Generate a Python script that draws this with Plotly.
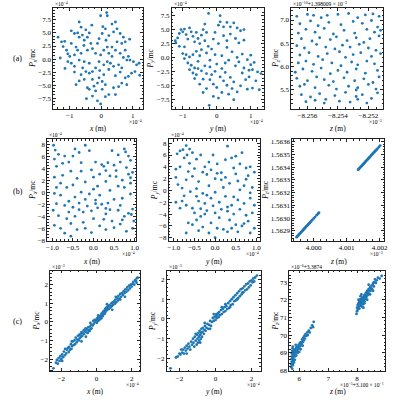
import plotly.graph_objects as go

# ---------------- data (values as displayed, in the axis multiplier units) ----------------
# Row (a): x vs P_x/mc  (x in 1e-4 m, P in 1e-4)
a1_points = [(-1.37,4.2),(-1.26,3.3),(-1.16,3.4),(-1.21,2.4),(-1.1,1.7),(-1.06,1.0),(-1.0,0.5),(-1.06,-0.5),
 (-0.95,-0.8),(-0.85,-1.4),(-0.85,-2.5),(-0.7,-4.2),(-0.8,2.3),(-0.95,5.4),(-0.85,4.9),(-0.75,5.0),(-0.7,7.1),
 (-0.64,6.1),(-0.6,4.6),(-0.54,3.6),(-0.49,5.6),(-0.44,4.2),(-0.38,5.0),(-0.33,3.0),(-0.44,1.7),(-0.64,1.1),
 (-0.54,-0.5),(-0.38,-0.8),(-0.59,-1.7),(-0.49,-2.4),(-0.38,-2.7),(-0.28,-2.4),(-0.54,-3.9),(-0.44,-5.5),
 (-0.38,-5.8),(-0.47,-7.6),(-0.28,-7.1),(-0.18,-6.1),(-0.12,-8.0),(-0.02,-8.6),(0.13,-7.2),(0.24,-6.8),
 (-0.12,-4.6),(-0.07,-3.6),(0.03,-4.3),(0.13,-4.9),(0.39,-5.5),(0.55,-5.3),(0.45,-6.8),(0.65,-4.6),(0.81,-4.9),
 (0.76,-3.6),(0.86,-3.3),(0.96,-2.7),(1.07,-2.4),(1.12,-1.1),(1.02,-0.5),(0.65,-1.7),(0.55,-1.1),(0.39,-1.4),
 (0.29,-0.8),(0.19,-0.5),(0.08,-1.1),(0.24,-2.0),(0.08,-3.0),(-0.18,-1.7),(-0.07,-0.5),(-0.02,0.8),(-0.18,1.1),
 (-0.28,2.0),(-0.12,3.0),(-0.07,3.9),(0.03,4.9),(-0.02,8.3),(0.17,8.9),(0.19,8.3),(0.34,6.7),(0.45,7.1),
 (0.5,5.8),(0.39,5.2),(0.24,4.5),(0.13,5.8),(0.6,4.9),(0.7,4.2),(0.76,3.3),(0.65,3.0),(0.5,3.3),(0.34,2.3),
 (0.19,2.3),(0.08,1.7),(0.45,1.7),(0.6,1.1),(0.76,1.7),(0.86,0.5),(0.91,-0.2),(0.81,-0.2),(0.34,0.5),(0.24,1.1),
 (-0.8,-4.9),(-0.64,-3.0),(-0.28,-3.9),(-0.23,-5.2),(0.03,-5.8),(-0.7,4.2),(-0.95,3.0),(-0.85,0.8),(-0.7,-0.2),
 (-0.75,1.7),(-0.3,6.5),(0.05,6.2),(0.9,3.8),(-1.3,0.2),(-1.15,-1.8),(0.6,-2.5),(0.45,-3.2),(-0.05,-2.2),
 (0.15,3.6),(-0.55,2.6),(0.7,0.3),(1.22,-3.1),(1.2,-0.8)]

# y vs P_y/mc  (y in 1e-4 m, P in 1e-4)
a2_points = [(-1.22,3.0),(-1.2,2.6),(-1.15,3.5),(-1.1,4.3),(-1.05,5.0),(-1.0,4.6),(-0.95,5.1),(-0.9,4.1),
 (-0.85,3.3),(-0.8,5.3),(-0.75,4.6),(-0.7,3.8),(-0.65,2.8),(-0.6,4.5),(-0.55,3.4),(-0.5,2.5),(-0.45,4.0),
 (-0.4,5.0),(-0.35,3.0),(-0.3,4.5),(-1.0,0.7),(-0.95,-0.2),(-0.9,0.5),(-0.85,-1.0),(-0.75,-1.4),(-0.8,-2.2),
 (-0.7,-2.8),(-0.65,-1.9),(-0.6,-3.1),(-0.55,-0.7),(-0.5,0.3),(-0.45,-2.4),(-0.4,-3.9),(-0.35,-1.5),(-0.3,0.8),
 (-0.25,2.0),(-0.2,-0.5),(-0.15,1.5),(-0.1,3.3),(-0.05,-2.5),(0.0,-1.2),(0.05,2.5),(0.1,-3.5),(0.15,0.3),
 (-0.24,7.9),(0.1,7.5),(0.05,5.8),(0.1,6.4),(0.2,5.5),(0.3,6.3),(0.4,5.5),(0.5,6.2),(0.6,5.3),(0.7,4.8),
 (0.4,4.2),(0.55,3.4),(0.2,3.9),(0.8,3.1),(0.65,2.6),(0.3,1.8),(0.45,1.0),(0.6,0.0),(0.75,0.6),(0.9,-0.4),
 (1.0,-1.3),(1.1,-0.9),(1.05,-2.2),(1.2,-2.6),(1.3,-2.9),(0.95,-3.5),(0.85,-4.0),(0.75,-2.8),(0.55,-1.5),
 (0.35,-0.5),(0.25,-2.7),(0.4,-3.6),(0.5,-4.4),(0.7,-5.1),(0.9,-5.7),(1.05,-5.5),(1.15,-4.2),(1.25,-5.8),
 (0.6,-6.2),(0.45,-5.6),(0.3,-5.0),(0.2,-4.2),(0.35,-6.6),(0.5,-7.6),(0.15,-6.3),(0.0,-5.4),(-0.1,-4.8),
 (-0.2,-4.0),(-0.3,-5.6),(-0.4,-6.3),(-0.22,-8.6),(-0.1,-7.0),(0.05,-7.3),(-0.5,-4.8),(-0.65,-3.8),(-0.3,-2.9),
 (-0.15,-3.1),(-0.8,0.1),(-0.95,1.9),(-1.1,2.0),(-0.6,1.1),(-0.7,0.5),(-0.45,1.4),(-0.55,-2.0),(-0.2,-1.7),
 (-0.05,0.5),(0.25,-1.0),(0.65,-0.8),(0.8,-1.9),(1.0,0.4),(-0.05,4.5),(0.3,3.0),(-0.35,6.0),(0.8,5.0),
 (0.15,-2.0),(0.95,-2.3)]

# z vs P_z/mc  (z in 1e-3 m; P in 1e-10 + 1.398009e-3)
a3_points = [(-8.2567,7.08),(-8.2560,7.12),(-8.2556,7.10),(-8.2551,7.05),(-8.2547,7.10),(-8.2540,7.12),
 (-8.2533,7.14),(-8.2527,7.05),(-8.2522,7.11),(-8.2517,7.13),(-8.2513,7.08),(-8.2565,6.92),(-8.2558,6.98),
 (-8.2553,6.88),(-8.2546,6.95),(-8.2538,6.90),(-8.2530,6.97),(-8.2524,6.93),(-8.2518,6.99),(-8.2514,6.85),
 (-8.2566,6.72),(-8.2561,6.80),(-8.2555,6.74),(-8.2549,6.82),(-8.2543,6.70),(-8.2536,6.78),(-8.2529,6.72),
 (-8.2521,6.80),(-8.2516,6.74),(-8.2512,6.78),(-8.2564,6.60),(-8.2557,6.55),(-8.2552,6.62),(-8.2545,6.58),
 (-8.2541,6.64),(-8.2534,6.56),(-8.2528,6.62),(-8.2523,6.52),(-8.2519,6.60),(-8.2513,6.66),(-8.2567,6.45),
 (-8.2562,6.40),(-8.2554,6.48),(-8.2548,6.42),(-8.2542,6.38),(-8.2537,6.46),(-8.2532,6.42),(-8.2526,6.48),
 (-8.2520,6.40),(-8.2515,6.35),(-8.2565,6.25),(-8.2559,6.30),(-8.2553,6.22),(-8.2547,6.28),(-8.2539,6.32),
 (-8.2535,6.20),(-8.2530,6.26),(-8.2525,6.30),(-8.2518,6.22),(-8.2512,6.28),(-8.2566,6.08),(-8.2561,6.12),
 (-8.2556,6.05),(-8.2550,6.15),(-8.2544,6.08),(-8.2538,6.02),(-8.2531,6.10),(-8.2527,6.04),(-8.2521,6.12),
 (-8.2516,6.06),(-8.2568,5.88),(-8.2563,5.95),(-8.2557,5.90),(-8.2551,5.97),(-8.2545,5.85),(-8.2540,5.92),
 (-8.2534,5.88),(-8.2528,5.95),(-8.2522,5.86),(-8.2514,5.92),(-8.2567,5.75),(-8.2560,5.70),(-8.2554,5.78),
 (-8.2549,5.72),(-8.2543,5.68),(-8.2536,5.76),(-8.2529,5.70),(-8.2523,5.74),(-8.2517,5.66),(-8.2513,5.78),
 (-8.2565,5.58),(-8.2562,5.62),(-8.2555,5.55),(-8.2546,5.60),(-8.2541,5.52),(-8.2533,5.58),(-8.2528,5.50),
 (-8.2527,5.55),(-8.2520,5.62),(-8.2515,5.52),(-8.2564,5.40),(-8.2558,5.35),(-8.2552,5.42),(-8.2548,5.30),
 (-8.2542,5.38),(-8.2535,5.45),(-8.2528,5.36),(-8.2524,5.40),(-8.2518,5.32),(-8.2514,5.44),(-8.2561,5.25),
 (-8.2555,5.28),(-8.2549,5.22),(-8.2539,5.26),(-8.2532,5.24),(-8.2527,5.30),(-8.2521,5.22)]

# Row (b)
b1_points = [(-0.97,7.8),(-0.93,7.0),(-0.95,5.5),(-0.9,4.3),(-0.85,6.3),(-0.7,6.0),(-0.6,5.0),(-0.45,7.2),
 (-0.35,6.6),(-0.2,7.8),(-0.1,6.9),(-0.3,4.9),(-0.55,3.5),(-0.75,2.8),(-0.95,2.5),(-0.8,1.5),(-0.5,1.2),
 (-0.3,3.5),(0.05,5.0),(0.0,2.5),(0.15,3.0),(0.25,4.3),(0.3,3.6),(0.4,2.7),(0.5,4.5),(0.55,3.6),(0.75,7.2),
 (0.78,6.7),(0.6,6.2),(0.8,4.1),(0.9,5.3),(0.85,3.0),(0.95,3.3),(0.7,2.0),(0.9,1.5),(0.6,1.0),(0.3,1.8),
 (0.1,1.0),(0.0,0.5),(-0.1,-0.3),(-0.3,0.0),(-0.45,-0.8),(-0.6,-1.5),(-0.8,-0.5),(-0.95,-0.2),(-0.9,-1.9),
 (-0.7,-2.2),(-0.5,-2.5),(-0.35,-1.8),(-0.2,-1.2),(0.05,-1.3),(0.2,-2.0),(0.35,-1.8),(0.5,-1.2),(0.7,-1.0),
 (0.9,-0.3),(0.95,-2.8),(0.85,-3.5),(0.92,-3.7),(0.75,-4.0),(0.6,-3.0),(0.4,-2.9),(0.3,-3.6),(0.1,-2.6),
 (-0.05,-3.1),(-0.25,-3.3),(-0.45,-4.0),(-0.65,-4.4),(-0.85,-3.9),(-0.95,-5.5),(-0.8,-6.0),(-0.7,-6.8),
 (-0.55,-7.3),(-0.4,-6.2),(-0.2,-6.0),(-0.05,-6.7),(0.15,-5.6),(0.3,-6.2),(0.5,-5.9),(0.65,-5.3),(0.8,-6.5),
 (0.95,-6.0),(0.45,-4.8),(0.25,-4.5),(0.0,-4.4),(-0.25,-5.0),(-0.55,-5.2),(-0.15,-2.3),(0.15,-0.5),(0.4,0.3),
 (0.65,-2.2),(0.75,0.8),(0.9,2.4),(0.55,2.6),(0.2,4.6),(-0.05,3.7),(-0.4,2.3),(-0.65,0.8),(-0.2,1.7),
 (0.35,4.9),(0.65,5.0),(0.85,6.0),(-0.75,4.8),(-0.5,6.0),(0.45,6.9),(-0.9,0.8),(0.05,-1.9),(-0.6,-3.3),
 (0.3,-2.7),(0.7,-4.6),(-0.35,-2.9),(0.98,-4.8),(-0.98,-3.0)]

b2_points = [(-0.95,3.6),(-0.92,6.2),(-0.85,6.7),(-0.78,6.9),(-0.7,7.6),(-0.62,7.0),(-0.68,6.0),(-0.75,5.5),
 (-0.55,6.4),(-0.45,5.3),(-0.35,6.0),(-0.25,4.0),(-0.3,3.1),(-0.5,3.7),(-0.62,4.6),(-0.85,4.0),(-0.95,2.2),
 (-0.9,1.0),(-0.8,0.4),(-0.7,1.8),(-0.55,2.4),(-0.4,1.5),(-0.2,2.7),(-0.1,3.5),(0.0,2.0),(0.05,4.5),(0.15,3.0),
 (0.25,2.2),(0.3,7.5),(0.4,5.5),(0.5,5.8),(0.6,4.5),(0.65,6.4),(0.75,3.8),(0.85,4.0),(0.95,3.1),(0.45,3.8),
 (0.35,1.2),(0.55,1.6),(0.7,0.8),(0.8,2.5),(0.9,0.5),(0.2,0.5),(0.0,-0.3),(-0.15,0.8),(-0.3,-0.5),(-0.45,-1.0),
 (-0.6,-0.2),(-0.8,-1.8),(-0.95,-2.0),(-0.7,-2.5),(-0.55,-3.0),(-0.4,-1.8),(-0.25,-2.2),(-0.1,-1.3),(0.1,-2.0),
 (0.25,-1.0),(0.4,-2.5),(0.55,-1.6),(0.7,-2.2),(0.85,-1.3),(0.95,-2.5),(0.9,-3.8),(0.75,-4.2),(0.6,-3.2),
 (0.45,-4.0),(0.3,-3.5),(0.15,-3.2),(0.0,-3.8),(-0.2,-3.4),(-0.35,-4.4),(-0.5,-3.8),(-0.65,-5.5),(-0.45,-5.0),
 (-0.3,-6.2),(-0.1,-5.5),(0.05,-6.4),(0.2,-6.6),(0.35,-5.0),(0.5,-5.8),(0.65,-6.0),(0.8,-5.2),(0.95,-6.4),
 (0.85,-7.2),(0.55,-7.0),(0.3,-7.0),(0.0,-8.0),(-0.15,-7.2),(-0.7,-7.2),(-0.4,-6.8),(0.1,-4.6),(-0.25,-4.0),
 (0.7,-5.6),(0.4,-6.4),(-0.55,-5.8),(-0.85,-3.0),(-0.05,-2.6),(0.3,-2.8),(0.6,0.1),(0.15,1.8),(-0.45,0.3),
 (-0.15,4.8),(0.25,5.2),(0.75,1.9),(-0.65,3.2),(0.05,2.9),(-0.35,-3.1),(0.45,-1.1),(0.85,-0.4),(-0.75,-0.9),
 (-0.2,-0.8),(0.5,2.8),(-0.05,6.0)]

# z (1e-3 m) vs P_z/mc : two straight clusters
b3_points = [(3.99948,1.562850),(3.99950,1.562856),(3.99952,1.562861),(3.99954,1.562867),(3.99956,1.562873),
 (3.99958,1.562878),(3.99960,1.562884),(3.99962,1.562890),(3.99964,1.562895),(3.99966,1.562901),
 (3.99968,1.562907),(3.99970,1.562912),(3.99972,1.562918),(3.99974,1.562924),(3.99976,1.562929),
 (3.99978,1.562935),(3.99980,1.562941),(3.99982,1.562946),(3.99984,1.562952),(3.99986,1.562958),
 (3.99988,1.562963),(3.99990,1.562969),(3.99993,1.562977),(3.99996,1.562986),(4.00000,1.562997),
 (4.00004,1.563008),(4.00009,1.563023),(4.00013,1.563034),(4.00016,1.563042),
 (4.00135,1.563380),(4.00137,1.563386),(4.00139,1.563391),(4.00141,1.563397),(4.00143,1.563403),
 (4.00145,1.563408),(4.00147,1.563414),(4.00149,1.563420),(4.00151,1.563426),(4.00153,1.563431),
 (4.00155,1.563437),(4.00157,1.563443),(4.00159,1.563448),(4.00161,1.563454),(4.00163,1.563460),
 (4.00165,1.563465),(4.00167,1.563471),(4.00169,1.563477),(4.00171,1.563482),(4.00173,1.563488),
 (4.00175,1.563494),(4.00177,1.563499),(4.00179,1.563505),(4.00181,1.563511),(4.00183,1.563516),
 (4.00185,1.563522),(4.00187,1.563528),(4.00189,1.563533),(4.00191,1.563539),(4.00194,1.563547),
 (4.00198,1.563559),(4.00202,1.563570)]

# Row (c)
c1_points = [(-2.45,-2.50),(-2.30,-2.20),(-2.25,-2.05),(-2.20,-2.25),(-2.15,-1.95),(-2.10,-2.10),(-2.05,-1.85),
 (-2.00,-2.00),(-1.95,-1.75),(-1.90,-1.90),(-1.85,-1.60),(-1.80,-1.80),(-1.78,-1.45),(-1.72,-1.70),(-1.68,-1.50),
 (-1.62,-1.40),(-1.58,-1.62),(-1.55,-1.35),(-1.50,-1.50),(-1.45,-1.20),(-1.42,-1.45),(-1.38,-1.30),(-1.35,-1.05),
 (-1.30,-1.25),(-1.25,-1.00),(-1.22,-1.20),(-1.18,-0.85),(-1.12,-1.10),(-1.10,-0.95),(-1.05,-0.75),(-1.00,-1.00),
 (-0.98,-0.70),(-0.95,-0.88),(-0.90,-0.65),(-0.88,-0.80),(-0.85,-0.55),(-0.80,-0.75),(-0.78,-0.60),(-0.72,-0.45),
 (-0.70,-0.65),(-0.65,-0.50),(-0.62,-0.35),(-0.58,-0.55),(-0.55,-0.40),(-0.50,-0.60),(-0.48,-0.30),(-0.45,-0.45),
 (-0.40,-0.50),(-0.38,-0.25),(-0.35,-0.40),(-0.30,-0.15),(-0.28,-0.35),(-0.22,-0.20),(-0.18,0.05),(-0.15,-0.10),
 (-0.10,0.10),(-0.05,0.00),(0.00,0.12),(0.02,-0.05),(0.05,0.20),(0.08,0.05),(0.12,0.25),(0.15,0.10),(0.18,0.30),
 (0.22,0.15),(0.25,0.35),(0.28,0.20),(0.30,0.45),(0.35,0.30),(0.38,0.55),(0.40,0.40),(0.45,0.60),(0.48,0.45),
 (0.50,0.70),(0.52,0.55),(0.55,0.75),(0.58,0.62),(0.62,0.80),(0.65,0.68),(0.68,0.85),(0.72,0.70),(0.75,0.90),
 (0.80,0.78),(0.85,1.00),(0.88,0.85),(0.92,1.05),(0.95,0.92),(1.00,1.10),(1.05,0.98),(1.08,1.20),(1.12,1.05),
 (1.18,1.30),(1.22,1.15),(1.25,1.40),(1.30,1.25),(1.35,1.50),(1.40,1.35),(1.45,1.55),(1.50,1.45),(1.55,1.65),
 (1.60,1.55),(1.65,1.75),(1.70,1.62),(1.75,1.85),(1.80,1.70),(1.85,1.95),(1.90,1.80),(1.95,2.00),(2.00,1.90),
 (2.05,2.05),(2.10,2.15),(2.15,2.00),(2.20,2.25),(2.25,2.20),(2.30,2.35),(2.35,2.38),(2.28,2.10),(1.62,1.35),
 (1.10,1.35),(0.60,0.95),(0.10,0.35),(-0.35,-0.05),(-0.85,-1.05),(-1.40,-1.05),(-1.95,-2.10),(-0.60,-0.80),
 (0.90,0.65),(1.35,1.20)]

c2_points = [(-2.50,-2.50),(-2.20,-1.95),(-2.10,-1.90),(-2.00,-1.75),(-1.95,-1.80),(-1.85,-1.70),(-1.80,-1.55),
 (-1.75,-1.75),(-1.70,-1.45),(-1.65,-1.60),(-1.60,-1.35),(-1.55,-1.50),(-1.50,-1.25),(-1.45,-1.40),(-1.40,-1.55),
 (-1.35,-1.15),(-1.30,-1.30),(-1.25,-1.00),(-1.22,-1.20),(-1.18,-1.40),(-1.15,-0.90),(-1.10,-1.10),(-1.05,-1.30),
 (-1.02,-0.80),(-1.00,-1.00),(-0.98,-1.20),(-0.95,-0.70),(-0.92,-0.90),(-0.90,-1.10),(-0.88,-0.60),(-0.85,-0.80),
 (-0.82,-1.00),(-0.80,-0.70),(-0.78,-0.50),(-0.75,-0.90),(-0.72,-0.65),(-0.70,-0.45),(-0.65,-0.75),(-0.62,-0.55),
 (-0.58,-0.35),(-0.55,-0.60),(-0.50,-0.45),(-0.45,-0.25),(-0.40,-0.50),(-0.35,-0.30),(-0.30,-0.10),(-0.25,-0.35),
 (-0.20,-0.15),(-0.15,0.05),(-0.10,-0.10),(-0.05,0.10),(0.00,-0.05),(0.02,0.15),(0.05,0.25),(0.08,0.05),
 (0.10,0.20),(0.15,0.30),(0.18,0.10),(0.20,0.35),(0.25,0.20),(0.30,0.45),(0.35,0.25),(0.40,0.50),(0.45,0.35),
 (0.50,0.60),(0.55,0.40),(0.60,0.65),(0.65,0.50),(0.70,0.80),(0.75,0.55),(0.80,0.90),(0.85,0.70),(0.90,1.00),
 (0.95,0.75),(1.00,1.10),(1.05,0.90),(1.10,1.20),(1.15,0.95),(1.20,1.30),(1.25,1.05),(1.30,1.40),(1.35,1.15),
 (1.40,1.50),(1.45,1.25),(1.50,1.55),(1.55,1.35),(1.60,1.65),(1.65,1.45),(1.70,1.75),(1.75,1.50),(1.80,1.80),
 (1.85,1.60),(1.90,1.90),(1.95,1.70),(2.00,1.95),(2.05,1.85),(2.10,2.05),(2.15,1.90),(2.20,2.10),(2.30,2.20),
 (1.20,1.00),(0.55,0.75),(-0.10,0.25),(-0.60,-0.20),(-1.10,-0.75),(-1.60,-1.75),(-0.30,-0.50),(0.80,0.60),
 (1.50,1.35),(-1.90,-1.55),(-0.85,-1.20),(0.35,0.60)]

# z (1e-5 + 3.100e-1 m) vs P_z/mc (1e-6 + 3.3874)
c3_points = [(5.72,68.20),(5.73,68.35),(5.74,68.50),(5.74,68.65),(5.75,68.80),(5.75,68.95),(5.76,69.10),
 (5.76,68.40),(5.77,68.60),(5.77,69.25),(5.78,68.75),(5.78,68.30),(5.79,68.90),(5.79,69.05),(5.80,68.55),
 (5.80,68.70),(5.81,69.00),(5.82,68.85),(5.82,68.45),(5.83,69.15),(5.84,68.95),(5.85,69.10),(5.86,68.80),
 (5.87,69.20),(5.88,69.00),(5.90,69.30),(5.92,69.10),(5.94,69.35),(5.96,69.20),(5.98,69.45),(6.00,69.30),
 (6.02,69.55),(6.04,69.40),(6.06,69.60),(6.08,69.50),(6.10,69.75),(6.12,69.60),(6.14,69.85),(6.16,69.70),
 (6.18,69.95),(6.20,69.80),(6.22,70.05),(6.25,69.95),(6.28,70.15),(6.30,70.00),(6.33,70.25),(6.36,70.15),
 (6.40,70.40),(6.45,70.55),(6.48,70.45),(6.50,70.75),(5.76,68.10),(5.85,68.60),(5.95,69.00),(6.05,69.20),
 (5.90,68.85),(6.00,69.05),(6.12,69.40),(5.78,69.35),(5.88,69.45),
 (7.98,71.20),(8.00,71.35),(8.00,71.55),(8.02,71.70),(8.03,71.45),(8.05,71.80),(8.06,71.60),(8.08,71.90),
 (8.08,71.50),(8.10,71.75),(8.11,72.00),(8.12,71.65),(8.13,71.85),(8.14,72.05),(8.15,71.70),(8.16,71.95),
 (8.17,71.80),(8.18,72.10),(8.19,71.90),(8.20,72.00),(8.21,71.75),(8.22,72.15),(8.23,71.95),(8.24,72.05),
 (8.25,72.25),(8.26,71.90),(8.27,72.10),(8.28,72.30),(8.29,72.05),(8.30,72.20),(8.31,72.40),(8.32,72.15),
 (8.34,72.35),(8.35,72.50),(8.36,72.25),(8.38,72.45),(8.40,72.60),(8.41,72.35),(8.43,72.55),(8.45,72.70),
 (8.46,72.50),(8.48,72.65),(8.50,72.80),(8.52,72.60),(8.54,72.85),(8.56,72.95),(8.58,72.75),(8.60,73.00),
 (8.62,73.15),(8.65,72.95),(8.68,73.10),(8.72,73.25),(8.78,73.20),(8.85,73.35),(8.12,72.20),(8.18,71.60),
 (8.25,71.80),(8.05,72.00),(8.35,72.00),(8.45,72.30),(8.55,72.50),(8.40,72.85),(8.15,72.30),(8.22,71.55)]

row_labels = ["(a)", "(b)", "(c)"]

# ---------------- layout configuration ----------------
FONT = "Liberation Serif"
BLUE = "#1f77b4"
W = H = 400.0

def sup(s):
    return "×10<sup>" + s + "</sup>"

panels = [
    # row a
    dict(pts=a1_points, box=(53, 144, 7, 109), xr=(-1.52, 1.33), yr=(-9.5, 9.8), xd=1, xm=0.2, yd=2.5, ym=0.625,
         xf="d", yf=".1f", xt="<i>x</i> (m)", yt="<i>P<sub>x</sub></i>/mc", xmul=sup("−4"), ymul=sup("−4"), ylx=33),
    dict(pts=a2_points, box=(173, 266, 7, 109), xr=(-1.32, 1.38), yr=(-9.2, 8.9), xd=1, xm=0.2, yd=2.5, ym=0.625,
         xf="d", yf=".1f", xt="<i>y</i> (m)", yt="<i>P<sub>y</sub></i>/mc", xmul=sup("−4"), ymul=sup("−4"), ylx=152),
    dict(pts=a3_points, box=(294, 387, 7, 109), xr=(-8.25706, -8.25103), yr=(5.1, 7.26), xd=0.002, xm=0.0005, yd=0.5, ym=0.1,
         xf=".3f", yf=".1f", xt="<i>z</i> (m)", yt="<i>P<sub>z</sub></i>/mc", xmul=sup("−3"),
         ymul=sup("−10") + "+1.398009 × 10<sup>−3</sup>", ylx=279, x0=-8.256),
    # row b
    dict(pts=b1_points, box=(47, 137, 140, 243), xr=(-1.12, 1.04), yr=(-8.1, 8.8), xd=0.5, xm=0.1, yd=2, ym=0.5,
         xf=".1f", yf="d", xt="<i>x</i> (m)", yt="<i>P<sub>x</sub></i>/mc", xmul=sup("−4"), ymul=sup("−4"), ylx=33),
    dict(pts=b2_points, box=(170, 262, 140, 243), xr=(-1.12, 1.08), yr=(-8.55, 8.67), xd=0.5, xm=0.1, yd=2, ym=0.5,
         xf=".1f", yf="d", xt="<i>y</i> (m)", yt="<i>P<sub>y</sub></i>/mc", xmul=sup("−4"), ymul=sup("−4"), ylx=156),
    dict(pts=b3_points, box=(295, 388, 140, 243), xr=(3.99935, 4.00214), yr=(1.56282, 1.56362), xd=0.001, xm=0.0002,
         yd=0.0001, ym=0.00002, xf=".3f", yf=".4f", xt="<i>z</i> (m)", yt="<i>P<sub>z</sub></i>/mc", xmul=sup("−3"),
         ymul=None, ylx=268, x0=4.0, y0=1.5629),
    # row c
    dict(pts=c1_points, box=(50, 141, 273, 375), xr=(-2.62, 2.49), yr=(-2.66, 2.76), xd=2, xm=0.5, yd=1, ym=0.2,
         xf="d", yf="d", xt="<i>x</i> (m)", yt="<i>P<sub>x</sub></i>/mc", xmul=sup("−4"), ymul=sup("−3"), ylx=36),
    dict(pts=c2_points, box=(168, 263, 273, 375), xr=(-2.7, 2.51), yr=(-2.65, 2.45), xd=2, xm=0.5, yd=1, ym=0.2,
         xf="d", yf="d", xt="<i>y</i> (m)", yt="<i>P<sub>y</sub></i>/mc", xmul=sup("−4"), ymul=sup("−3"), ylx=154),
    dict(pts=c3_points, box=(292, 389, 273, 375), xr=(5.66, 8.97), yr=(67.95, 73.65), xd=1, xm=0.2, yd=1, ym=0.2,
         xf="d", yf="d", xt="<i>z</i> (m)", yt="<i>P<sub>z</sub></i>/mc",
         xmul=sup("−5") + "+3.100 × 10<sup>−1</sup>", ymul=sup("−6") + "+3.3874", ylx=278),
]

fig = go.Figure()
annotations = []
layout = {}

def px_x(v):
    return v / W

def px_y(v):
    return 1 - v / H

for i, p in enumerate(panels, start=1):
    xs = [q[0] for q in p["pts"]]
    ys = [q[1] for q in p["pts"]]
    xa = "x" if i == 1 else f"x{i}"
    ya = "y" if i == 1 else f"y{i}"
    fig.add_trace(go.Scatter(x=xs, y=ys, mode="markers", xaxis=xa, yaxis=ya,
                             marker=dict(size=2.8, color=BLUE, line=dict(width=0)), showlegend=False))
    l, r, t, b = p["box"]
    common = dict(showgrid=False, zeroline=False, showline=True, linecolor="#222", linewidth=0.8,
                  mirror="allticks", ticks="inside", ticklen=3, tickwidth=0.6, tickcolor="#222",
                  tickfont=dict(family=FONT, size=7, color="black"))
    xk = "xaxis" if i == 1 else f"xaxis{i}"
    yk = "yaxis" if i == 1 else f"yaxis{i}"
    x0 = p.get("x0", 0)
    y0 = p.get("y0", 0)
    layout[xk] = dict(common, domain=[px_x(l), px_x(r)], anchor=ya, range=list(p["xr"]),
                      tick0=x0, dtick=p["xd"], tickformat=p["xf"],
                      minor=dict(ticks="inside", ticklen=1.6, tickwidth=0.5, tickcolor="#222",
                                 tick0=x0, dtick=p["xm"]))
    layout[yk] = dict(common, domain=[px_y(b), px_y(t)], anchor=xa, range=list(p["yr"]),
                      tick0=y0, dtick=p["yd"], tickformat=p["yf"],
                      minor=dict(ticks="inside", ticklen=1.6, tickwidth=0.5, tickcolor="#222",
                                 tick0=y0, dtick=p["ym"]))
    # x-axis title
    annotations.append(dict(text=p["xt"], x=px_x((l + r) / 2), y=px_y(b + 20.5), xref="paper", yref="paper",
                            showarrow=False, xanchor="center", yanchor="middle",
                            font=dict(family=FONT, size=7.5, color="black")))
    # y-axis title
    annotations.append(dict(text=p["yt"], x=px_x(p["ylx"]), y=px_y((t + b) / 2), xref="paper", yref="paper",
                            showarrow=False, textangle=-90, xanchor="center", yanchor="middle",
                            font=dict(family=FONT, size=7.5, color="black")))
    # multipliers
    if p["xmul"]:
        annotations.append(dict(text=p["xmul"], x=px_x(r + 1), y=px_y(b + 13.5), xref="paper", yref="paper",
                                showarrow=False, xanchor="right", yanchor="middle",
                                font=dict(family=FONT, size=5.5, color="black")))
    if p["ymul"]:
        annotations.append(dict(text=p["ymul"], x=px_x(l), y=px_y(t - 4), xref="paper", yref="paper",
                                showarrow=False, xanchor="left", yanchor="middle",
                                font=dict(family=FONT, size=5.5, color="black")))

for lab, yy in zip(row_labels, [58, 193, 325]):
    annotations.append(dict(text=lab, x=px_x(17), y=px_y(yy), xref="paper", yref="paper", showarrow=False,
                            xanchor="center", yanchor="middle", font=dict(family=FONT, size=8, color="black")))

fig.update_layout(width=400, height=400, margin=dict(l=0, r=0, t=0, b=0),
                  paper_bgcolor="white", plot_bgcolor="white", annotations=annotations, **layout)

fig.write_html("out.html")
